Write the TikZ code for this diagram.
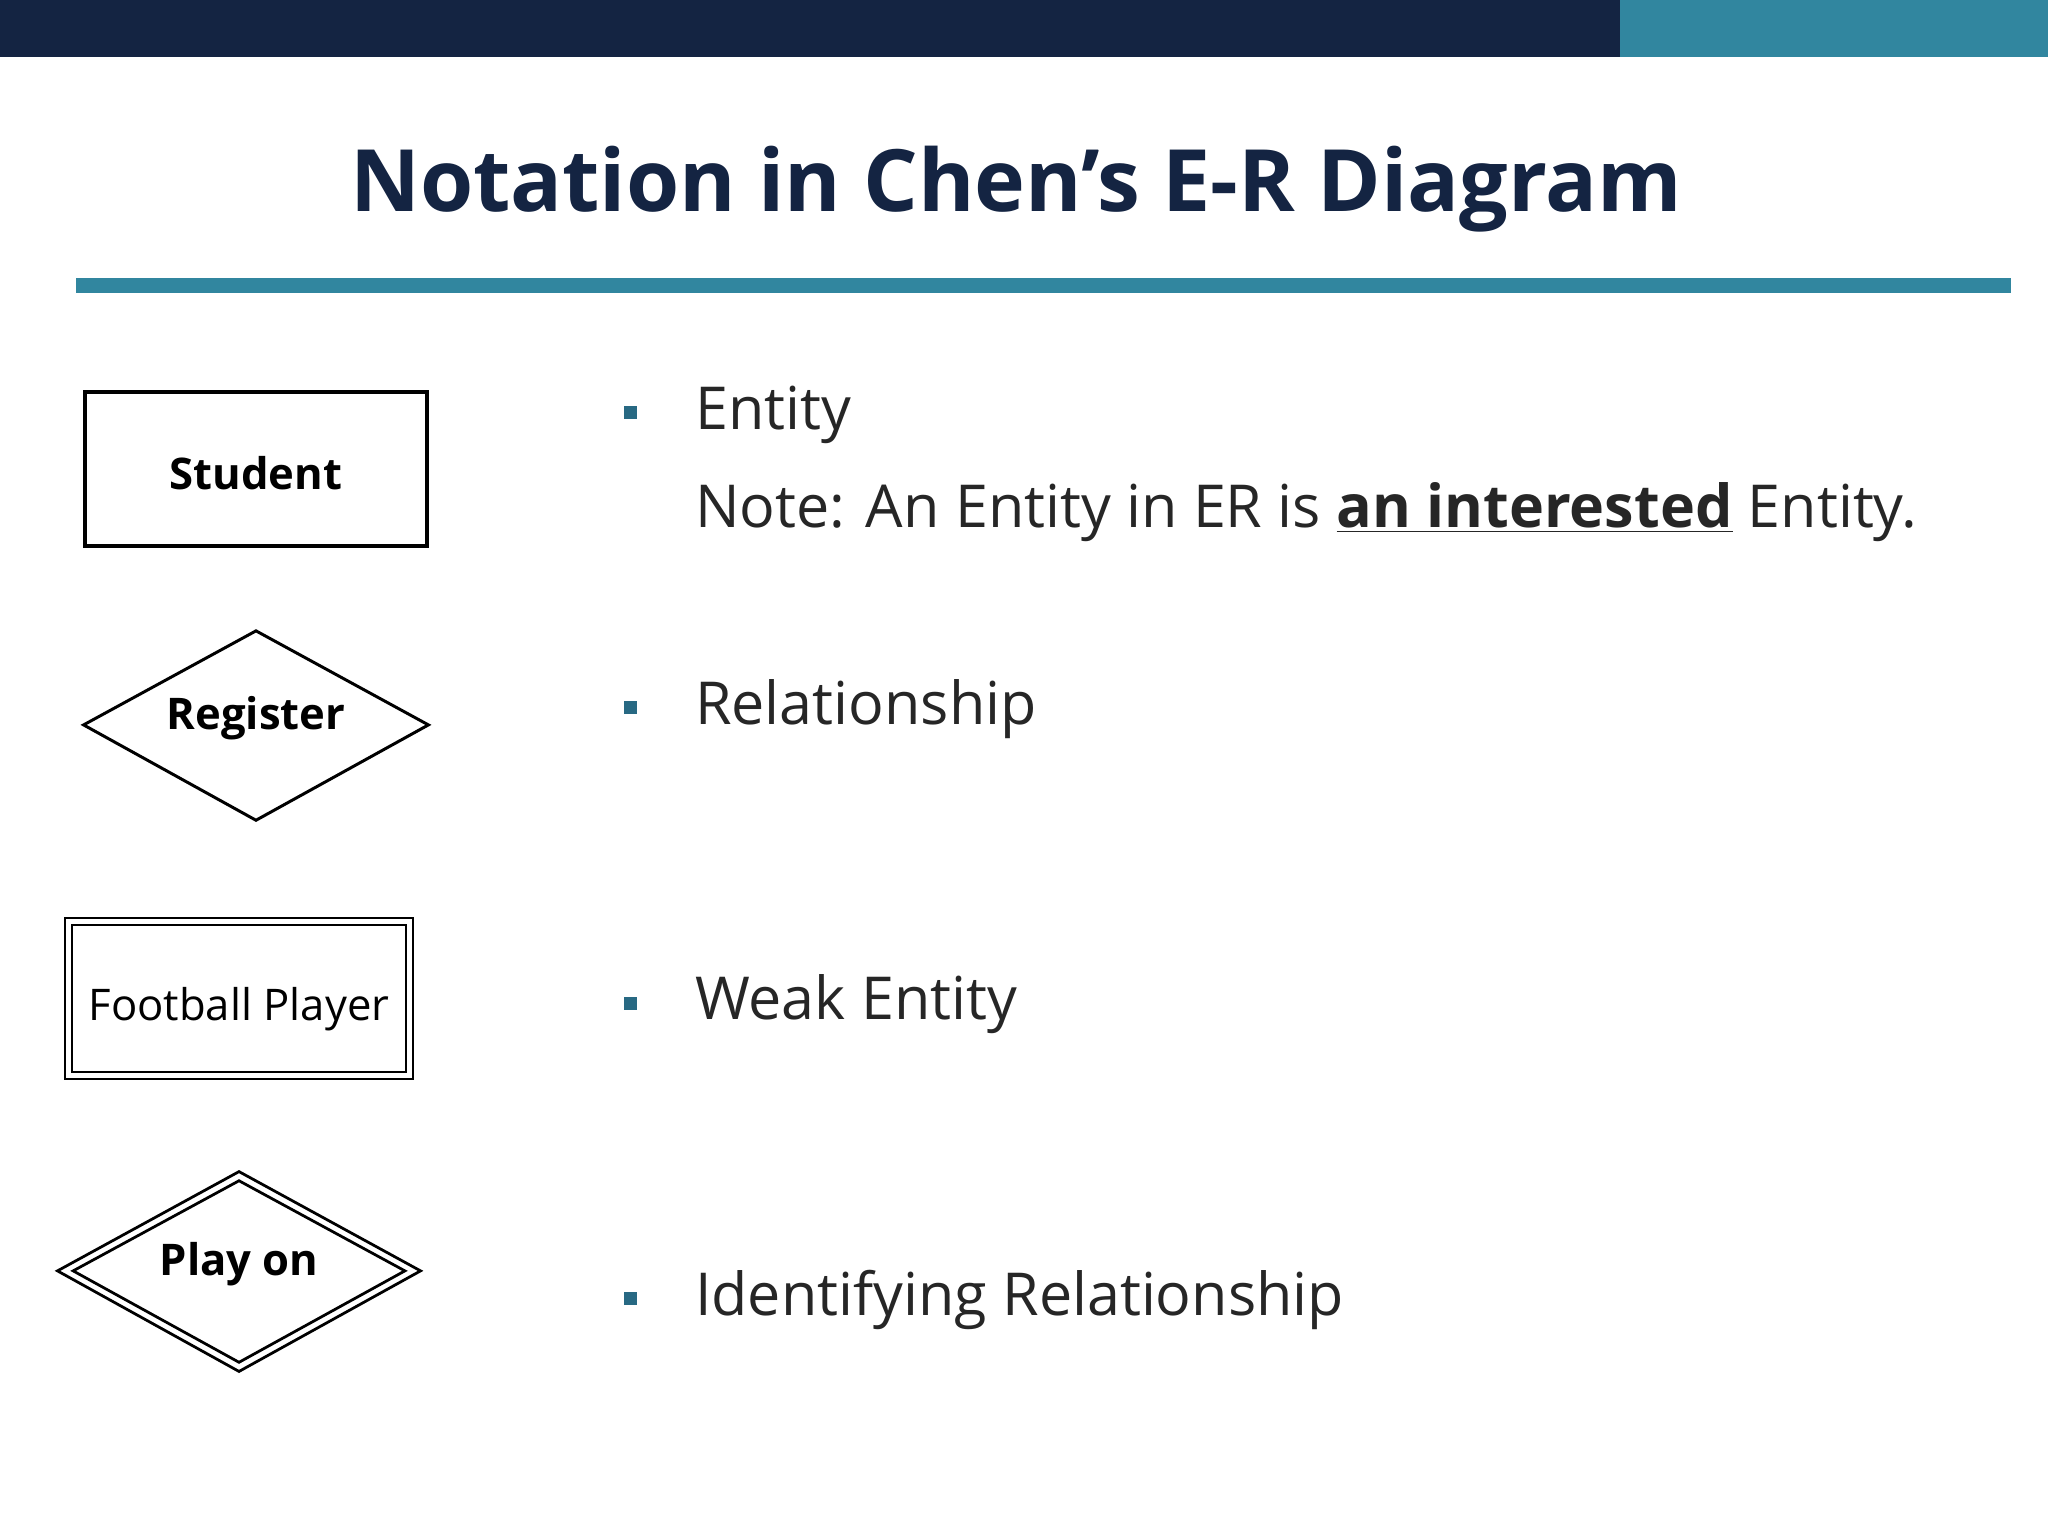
\documentclass[tikz,border=0pt]{standalone}
\usepackage{fontspec}
\setmainfont{Open Sans}
\usetikzlibrary{shapes.geometric}
\definecolor{navy}{HTML}{142442}
\definecolor{teal}{HTML}{31869F}
\definecolor{txt}{HTML}{262626}
\begin{document}
\begin{tikzpicture}[x=0.02cm,y=-0.02cm,
  lbl/.style={font=\fontsize{19}{22}\selectfont\bfseries},
  item/.style={anchor=west,text=txt,font=\fontsize{25.8}{30}\selectfont},
  bul/.style={fill=teal!70!navy,minimum size=0.2cm,inner sep=0pt}]
\useasboundingbox (0,0) rectangle (1568,1176);
\fill[navy] (0,0) rectangle (1240,44);
\fill[teal] (1240,0) rectangle (1568,44);
\node[text=navy,font=\fontsize{37.5}{42}\selectfont\bfseries] (title) at (778,145) {Notation in Chen{\char39}s E-R Diagram};
\fill[teal] (58,213) rectangle (1540,224);
% shapes
\draw[line width=1.5pt] (65,300) rectangle (327,418);
\node[lbl] (student) at (196,362) {Student};
\draw[line width=1.3pt] (64,555) -- (196,483) -- (328,555) -- (196,628) -- cycle;
\node[lbl] (register) at (196,550) {Register};
\draw[line width=1pt] (50,703) rectangle (316,826);
\draw[line width=1pt] (55,708) rectangle (311,821);
\node[font=\fontsize{19}{22}\selectfont] (fp) at (183,773) {Football Player};
\draw[line width=1.2pt] (44,973) -- (183,897) -- (322,973) -- (183,1050) -- cycle;
\draw[line width=1.2pt] (56,973) -- (183,904) -- (310,973) -- (183,1043) -- cycle;
\node[lbl] (playon) at (183,968) {Play on};
% bullets
\node[bul] (b1) at (483,316) {};
\node[item] (t1) at (526,318) {Entity};
\node[item] (t1b) at (526,392) {Note: An Entity in ER is \underline{\textbf{an interested}} Entity.};
\node[bul] (b2) at (483,542) {};
\node[item] (t2) at (526,543) {Relationship};
\node[bul] (b3) at (483,768) {};
\node[item] (t3) at (526,769) {Weak Entity};
\node[bul] (b4) at (483,994) {};
\node[item] (t4) at (526,995) {Identifying Relationship};
\end{tikzpicture}
\end{document}
